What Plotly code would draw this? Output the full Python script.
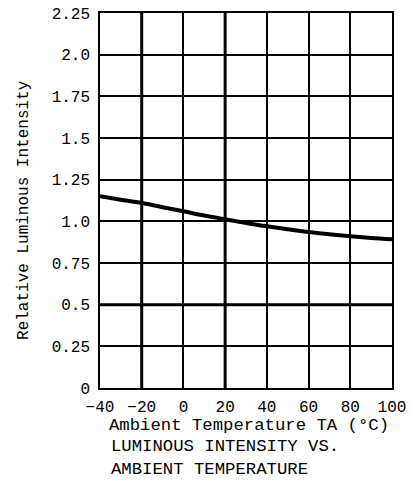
import plotly.graph_objects as go

# Data
temperature = [-40, -30, -20, -10, 0, 10, 20, 30, 40, 50, 60, 70, 80, 90, 100]
rel_intensity = [1.15, 1.13, 1.11, 1.085, 1.06, 1.035, 1.013, 0.99, 0.97, 0.952, 0.936, 0.922, 0.91, 0.90, 0.892]

x_ticks = [-40, -20, 0, 20, 40, 60, 80, 100]
x_tick_labels = ["\u221240", "\u221220", "0", "20", "40", "60", "80", "100"]
y_ticks = [0, 0.25, 0.5, 0.75, 1.0, 1.25, 1.5, 1.75, 2.0, 2.25]
y_tick_labels = ["0", "0.25", "0.5", "0.75", "1.0", "1.25", "1.5", "1.75", "2.0", "2.25"]

major_x = [-20, 20]
major_y = [0.5]

FONT = "Liberation Mono"

fig = go.Figure()
fig.add_trace(go.Scatter(x=temperature, y=rel_intensity, mode="lines",
                         line=dict(color="black", width=4, shape="spline"),
                         showlegend=False, hoverinfo="skip"))

shapes = []
for xv in major_x:
    shapes.append(dict(type="line", xref="x", yref="y", x0=xv, x1=xv, y0=0, y1=2.25,
                       line=dict(color="black", width=3), layer="below"))
for yv in major_y:
    shapes.append(dict(type="line", xref="x", yref="y", x0=-40, x1=100, y0=yv, y1=yv,
                       line=dict(color="black", width=3), layer="below"))

fig.update_layout(
    width=411, height=480,
    margin=dict(l=100, r=19, t=13, b=92),
    plot_bgcolor="white", paper_bgcolor="white",
    font=dict(family=FONT, size=16, color="black"),
    shapes=shapes,
    xaxis=dict(range=[-40, 100], tickvals=x_ticks, ticktext=x_tick_labels,
               showgrid=True, gridcolor="black", gridwidth=1.5,
               zeroline=True, zerolinecolor="black", zerolinewidth=1.5,
               showline=True, linecolor="black", linewidth=1.5, mirror=True,
               ticks="", ticklabelstandoff=3, tickfont=dict(size=16),
               ticklabeloverflow="allow", automargin=False),
    yaxis=dict(range=[0, 2.25], tickvals=y_ticks, ticktext=y_tick_labels,
               showgrid=True, gridcolor="black", gridwidth=1.5,
               zeroline=True, zerolinecolor="black", zerolinewidth=3,
               showline=True, linecolor="black", linewidth=1.5, mirror=True,
               ticks="", ticklabelstandoff=5, tickfont=dict(size=16),
               ticklabeloverflow="allow", automargin=False),
    annotations=[
        dict(text="Relative Luminous Intensity", xref="paper", yref="paper",
             x=-0.26, y=0.475, xanchor="center", yanchor="middle", textangle=-90,
             showarrow=False, font=dict(size=16)),
        dict(text="Ambient Temperature TA (\u00b0C)", xref="paper", yref="paper",
             x=0.024, y=-0.099, xanchor="left", yanchor="middle",
             showarrow=False, font=dict(size=17.3)),
        dict(text="LUMINOUS INTENSITY VS.", xref="paper", yref="paper",
             x=0.03, y=-0.157, xanchor="left", yanchor="middle",
             showarrow=False, font=dict(size=17.3)),
        dict(text="AMBIENT TEMPERATURE", xref="paper", yref="paper",
             x=0.03, y=-0.216, xanchor="left", yanchor="middle",
             showarrow=False, font=dict(size=17.3)),
    ],
)

fig.write_html("out.html", config={"displayModeBar": False},
               post_script="document.body.style.margin='0';")
